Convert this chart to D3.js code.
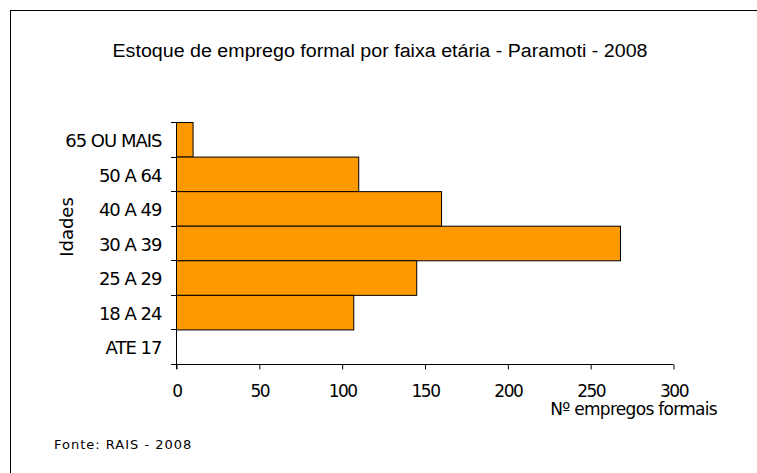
<!DOCTYPE html>
<html>
<head>
<meta charset="UTF-8">
<script src="https://d3js.org/d3.v7.min.js"></script>
<style>
  body { margin: 0; background: #fff; }
</style>
</head>
<body>
<svg width="757" height="473" font-family="DejaVu Sans"></svg>
<script>
// faixas etarias, de cima para baixo
const faixas = ["65 OU MAIS", "50 A 64", "40 A 49", "30 A 39", "25 A 29", "18 A 24", "ATE 17"];
const empregos = [10, 110, 160, 268, 145, 107, 0];
const xTicks = [0, 50, 100, 150, 200, 250, 300];

const svg = d3.select("svg");

// moldura (so aparece topo e esquerda)
svg.append("rect")
  .attr("x", 10.5).attr("y", 10.5)
  .attr("width", 760).attr("height", 480)
  .attr("fill", "none").attr("stroke", "#000").attr("stroke-width", 1);

const margin = { left: 176, top: 122, right: 673, bottom: 364 };

const x = d3.scaleLinear().domain([0, 300]).range([margin.left, margin.right]);
const y = d3.scaleBand().domain(faixas).range([margin.top, margin.bottom]).padding(0);

// barras
svg.selectAll("rect.bar")
  .data(faixas)
  .enter().append("rect")
  .attr("class", "bar")
  .attr("x", x(0) + 0.5)
  .attr("y", d => y(d) + 0.5)
  .attr("width", (d, i) => x(empregos[i]) - x(0))
  .attr("height", y.bandwidth())
  .attr("fill", "#FF9900")
  .attr("stroke", (d, i) => empregos[i] > 0 ? "#000" : "none")
  .attr("stroke-width", 1);

// eixo x
const xAxis = svg.append("g")
  .attr("transform", `translate(0.5, ${margin.bottom + 0.5})`)
  .call(d3.axisBottom(x).tickValues(xTicks).tickSize(5).tickSizeOuter(0).tickPadding(15));
xAxis.select(".domain").attr("d", `M${margin.left - 5},0H${margin.right}`);
xAxis.selectAll("text")
  .attr("font-size", 17).attr("font-family", "DejaVu Sans").attr("letter-spacing", -1.5);

// eixo y: rotulos centrados na faixa, traços nas divisas
const yAxis = svg.append("g")
  .attr("transform", `translate(${margin.left + 0.5}, 2)`)
  .call(d3.axisLeft(y).tickSize(0).tickPadding(15));
yAxis.select(".domain").remove();
yAxis.selectAll("text")
  .attr("font-size", 18).attr("font-family", "DejaVu Sans").attr("letter-spacing", -1);

const bordas = d3.range(faixas.length + 1).map(i => margin.top + i * y.step());
svg.append("g").selectAll("line")
  .data(bordas)
  .enter().append("line")
  .attr("x1", margin.left - 5).attr("x2", margin.left + 0.5)
  .attr("y1", d => Math.round(d) + 0.5).attr("y2", d => Math.round(d) + 0.5)
  .attr("stroke", "#000");
svg.append("line")
  .attr("x1", margin.left + 0.5).attr("x2", margin.left + 0.5)
  .attr("y1", margin.top).attr("y2", margin.bottom + 5)
  .attr("stroke", "#000");

// titulo
svg.append("text")
  .attr("x", 380).attr("y", 57)
  .attr("text-anchor", "middle")
  .attr("font-family", "Liberation Sans")
  .attr("font-size", 18)
  .attr("textLength", 535)
  .attr("lengthAdjust", "spacingAndGlyphs")
  .text("Estoque de emprego formal por faixa etária - Paramoti - 2008");

// titulos dos eixos
svg.append("text")
  .attr("transform", "translate(73, 227) rotate(-90)")
  .attr("text-anchor", "middle")
  .attr("font-size", 18)
  .text("Idades");

svg.append("text")
  .attr("x", 717).attr("y", 415)
  .attr("text-anchor", "end")
  .attr("font-size", 17).attr("letter-spacing", -0.7)
  .text("Nº empregos formais");

svg.append("text")
  .attr("x", 54).attr("y", 449)
  .attr("font-size", 13).attr("letter-spacing", 1)
  .text("Fonte: RAIS - 2008");
</script>
</body>
</html>
